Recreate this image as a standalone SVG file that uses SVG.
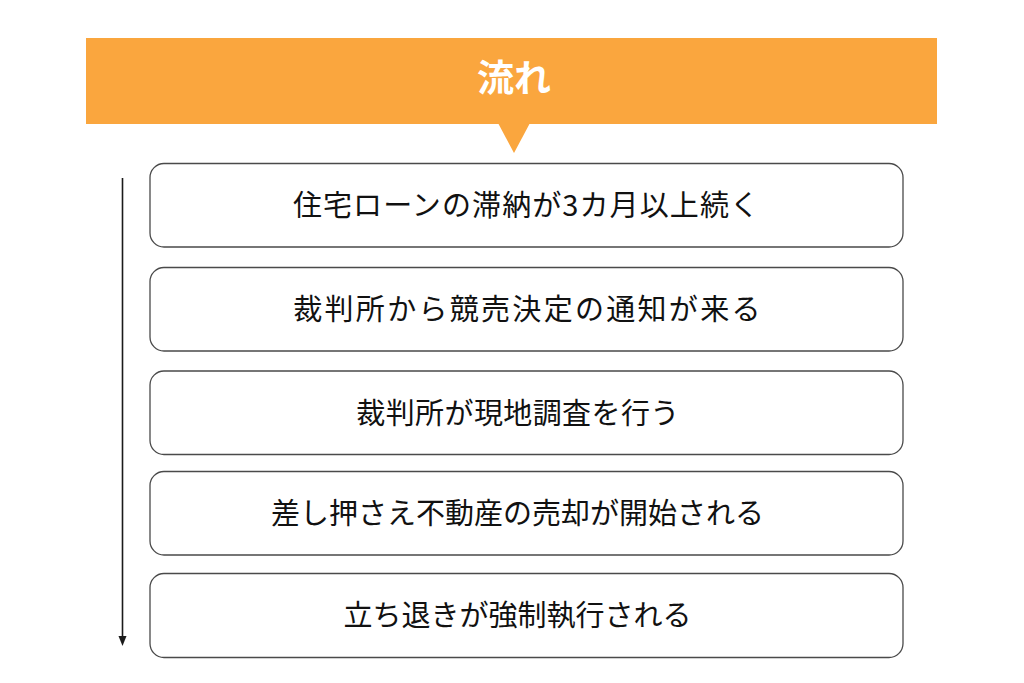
<svg xmlns="http://www.w3.org/2000/svg" width="1024" height="683" viewBox="0 0 1024 683">
<defs>
<style>
.box{fill:#ffffff;stroke:#4a4a4a;stroke-width:1.3}
.lbl{font-family:"Noto Sans CJK JP","Noto Sans CJK SC",sans-serif;font-size:29px;fill:#111111;text-anchor:middle}
.title{font-family:"Noto Sans CJK JP","Noto Sans CJK SC",sans-serif;font-size:37px;font-weight:bold;fill:#ffffff;text-anchor:middle}
</style>
</defs>
<rect width="1024" height="683" fill="#ffffff"/>
<g id="header">
<rect x="86" y="38" width="851" height="86" fill="#FAA63E"/>
<polygon points="498,123 530,123 514,153" fill="#FAA63E"/>
<text class="title" x="514" y="92">流れ</text>
</g>
<g id="connectors">
<line x1="122.5" y1="178" x2="122.5" y2="636" stroke="#1a1a1a" stroke-width="1.6"/>
<path d="M118.5,636 L126.5,636 L122.5,646 Z" fill="#1a1a1a"/>
</g>
<g id="step1">
<rect class="box" x="150" y="163.5" width="753" height="83.5" rx="14"/>
<text class="lbl" x="526.5" y="216" letter-spacing="1.1">住宅ローンの滞納が3カ月以上続く</text>
</g>
<g id="step2">
<rect class="box" x="150" y="267.5" width="753" height="83.5" rx="14"/>
<text class="lbl" x="528" y="320" letter-spacing="2.3">裁判所から競売決定の通知が来る</text>
</g>
<g id="step3">
<rect class="box" x="150" y="371" width="753" height="83.5" rx="14"/>
<text class="lbl" x="518" y="423.5" letter-spacing="0.4">裁判所が現地調査を行う</text>
</g>
<g id="step4">
<rect class="box" x="150" y="471.5" width="753" height="83.5" rx="14"/>
<text class="lbl" x="517.5" y="524">差し押さえ不動産の売却が開始される</text>
</g>
<g id="step5">
<rect class="box" x="150" y="573.5" width="753" height="84" rx="14"/>
<text class="lbl" x="517.5" y="626">立ち退きが強制執行される</text>
</g>
</svg>
